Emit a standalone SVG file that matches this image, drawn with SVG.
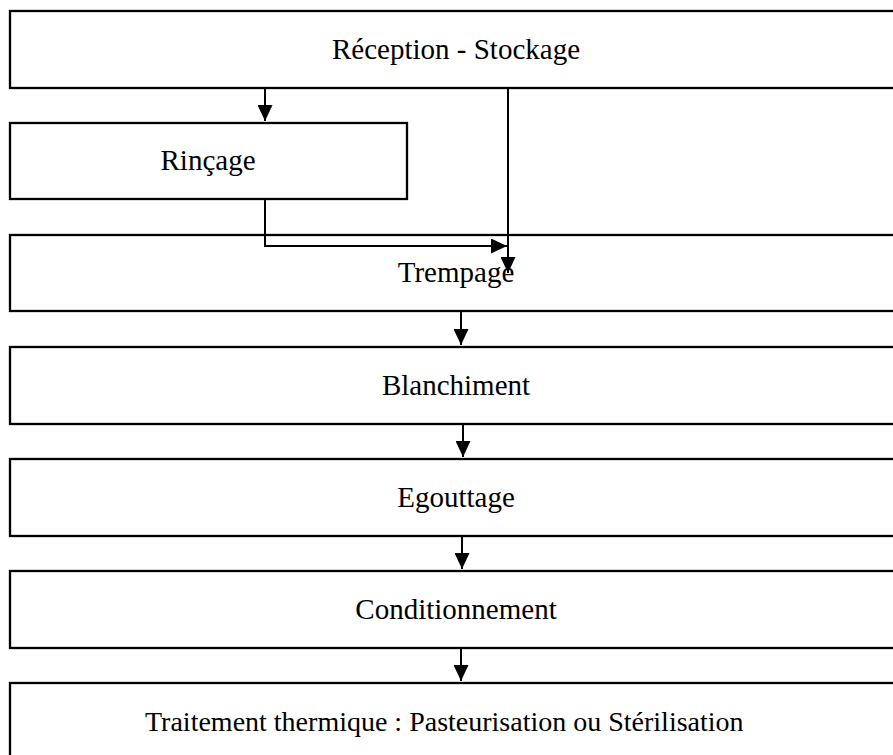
<svg xmlns="http://www.w3.org/2000/svg" width="893" height="755" viewBox="0 0 893 755">
<style>
.box{fill:#fff;stroke:#000;stroke-width:2.3}
.lbl{font-family:"Liberation Serif","Times New Roman",serif;font-size:29px;fill:#000;text-anchor:middle}
.con{fill:none;stroke:#000;stroke-width:2}
</style>
<defs>
<marker id="ah" markerWidth="16" markerHeight="15" refX="16" refY="7.5" orient="auto" markerUnits="userSpaceOnUse">
<path d="M0,0 L16,7.5 L0,15 z" fill="#000"/>
</marker>
</defs>
<rect width="893" height="755" fill="#fff"/>
<g id="n-reception"><rect class="box" x="10" y="11" width="893" height="77"/><text class="lbl" x="456" y="59">Réception - Stockage</text></g>
<g id="n-rincage"><rect class="box" x="10" y="123" width="397" height="76"/><text class="lbl" x="208" y="170">Rinçage</text></g>
<g id="n-trempage"><rect class="box" x="10" y="235" width="893" height="76"/><text class="lbl" x="456" y="282">Trempage</text></g>
<g id="n-blanchiment"><rect class="box" x="10" y="347" width="893" height="77"/><text class="lbl" x="456" y="395">Blanchiment</text></g>
<g id="n-egouttage"><rect class="box" x="10" y="459" width="893" height="77"/><text class="lbl" x="456" y="507">Egouttage</text></g>
<g id="n-conditionnement"><rect class="box" x="10" y="571" width="893" height="77"/><text class="lbl" x="456" y="619">Conditionnement</text></g>
<g id="n-traitement"><rect class="box" x="10" y="683" width="893" height="90"/><text class="lbl" x="145" y="731" style="text-anchor:start;font-size:28px">Traitement thermique : Pasteurisation ou Stérilisation</text></g>
<g id="connectors">
<line class="con" x1="265" y1="89" x2="265" y2="121" marker-end="url(#ah)"/>
<line class="con" x1="508" y1="89" x2="508" y2="273" marker-end="url(#ah)"/>
<polyline class="con" points="265,200 265,246 507,246" marker-end="url(#ah)"/>
<line class="con" x1="461" y1="312" x2="461" y2="345" marker-end="url(#ah)"/>
<line class="con" x1="463" y1="425" x2="463" y2="457" marker-end="url(#ah)"/>
<line class="con" x1="462" y1="537" x2="462" y2="569" marker-end="url(#ah)"/>
<line class="con" x1="461" y1="649" x2="461" y2="681" marker-end="url(#ah)"/>
</g>
</svg>
